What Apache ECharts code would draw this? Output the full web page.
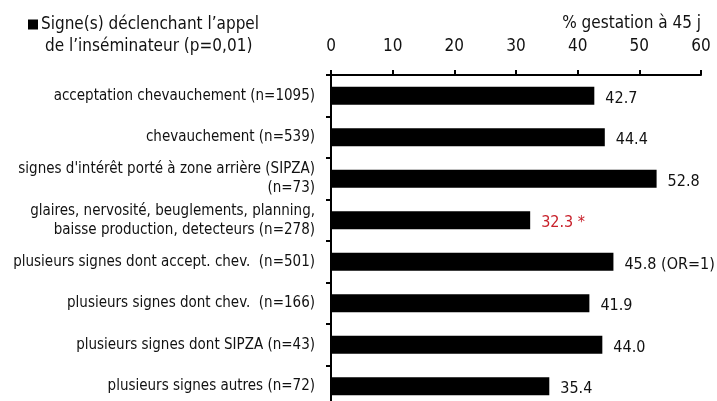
<!DOCTYPE html>
<html>
<head>
<meta charset="utf-8">
<script src="https://cdn.jsdelivr.net/npm/echarts@6/dist/echarts.min.js"></script>
<style>
    html, body { margin: 0; padding: 0; background: #fff; }
    #chartDiv { width: 717px; height: 401px; }
</style>
</head>
<body>
<div id="chartDiv"></div>
<script>
// categories, top to bottom
var categories = [
    "acceptation chevauchement (n=1095)",
    "chevauchement (n=539)",
    "signes d'intérêt porté à zone arrière (SIPZA)\n(n=73)",
    "glaires, nervosité, beuglements, planning,\nbaisse production, detecteurs (n=278)",
    "plusieurs signes dont accept. chev.  (n=501)",
    "plusieurs signes dont chev.  (n=166)",
    "plusieurs signes dont SIPZA (n=43)",
    "plusieurs signes autres (n=72)"
];
var gestation = [42.7, 44.4, 52.8, 32.3, 45.8, 41.9, 44.0, 35.4];
var notes = ["", "", "", " *", " (OR=1)", "", "", ""];
var significant = [false, false, false, true, false, false, false, false];
var xTicks = [0, 10, 20, 30, 40, 50, 60];

var seriesName = "Signe(s) déclenchant l\u2019appel";
var fontName = "'Liberation Sans Narrow', 'DejaVu Sans Condensed', 'Liberation Sans', sans-serif";

function drawChart() {
    var myChart = echarts.init(document.getElementById('chartDiv'));
    myChart.setOption({
        animation: false,
        textStyle: { fontFamily: fontName },
        title: [
            {
                text: "de l\u2019inséminateur (p=0,01)",
                left: 40,
                top: 33,
                textStyle: { fontSize: 17, fontWeight: 'normal', color: '#111', fontFamily: fontName }
            },
            {
                text: "% gestation à 45 j",
                right: 11,
                top: 10,
                textStyle: { fontSize: 17, fontWeight: 'normal', color: '#111', fontFamily: fontName }
            }
        ],
        legend: {
            left: 23,
            top: 11,
            icon: 'rect',
            itemWidth: 10,
            itemHeight: 10,
            itemGap: 4,
            data: [seriesName],
            textStyle: { fontSize: 17, color: '#111', fontFamily: fontName, padding: [0, 0, 0, -2] }
        },
        grid: {
            left: 331,
            right: 16,
            top: 75,
            height: 332,
            outerBoundsMode: 'none'
        },
        xAxis: {
            type: 'value',
            position: 'top',
            min: xTicks[0],
            max: xTicks[xTicks.length - 1],
            interval: 10,
            axisLine: { show: true, lineStyle: { color: '#000', width: 2 } },
            axisTick: { show: true, length: 5, lineStyle: { color: '#000', width: 2 } },
            axisLabel: { margin: 20, fontSize: 17, color: '#111', fontFamily: fontName },
            splitLine: { show: false }
        },
        yAxis: {
            type: 'category',
            inverse: true,
            data: categories,
            axisLine: { show: true, lineStyle: { color: '#000', width: 2 } },
            axisTick: { show: true, length: 5, lineStyle: { color: '#000', width: 2 } },
            axisLabel: { margin: 16, fontSize: 15, lineHeight: 19, color: '#111', fontFamily: fontName }
        },
        series: [
            {
                name: seriesName,
                type: 'bar',
                barWidth: 18,
                itemStyle: { color: '#000' },
                data: gestation.map(function (v, i) {
                    return {
                        value: v,
                        label: {
                            show: true,
                            position: 'right',
                            distance: 11,
                            offset: [0, 3],
                            fontSize: 16,
                            color: significant[i] ? '#c8202a' : '#111',
                            fontFamily: fontName,
                            formatter: v.toFixed(1) + notes[i]
                        }
                    };
                })
            }
        ]
    });
}
drawChart();
</script>
</body>
</html>
